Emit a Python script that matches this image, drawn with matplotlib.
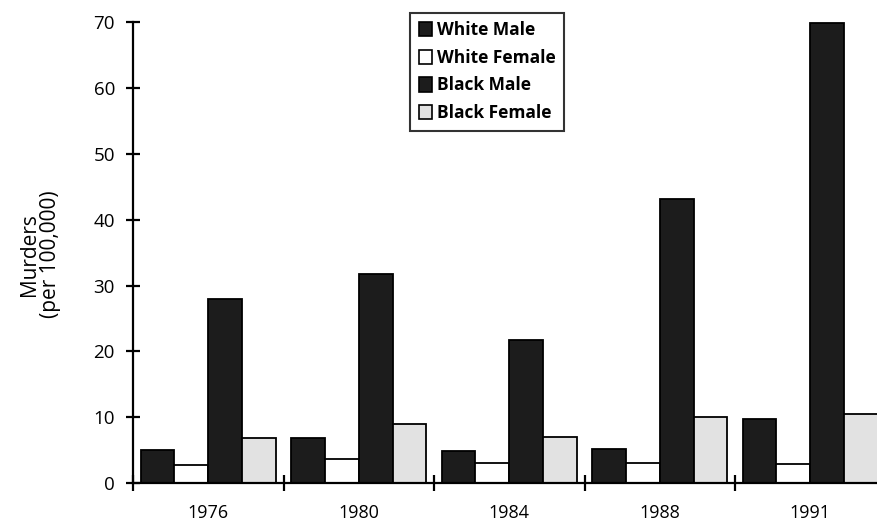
import numpy as np
import matplotlib.pyplot as plt
from matplotlib.patches import Patch

plt.rcParams['font.family'] = ['Open Sans', 'DejaVu Sans']

years = ['1976', '1980', '1984', '1988', '1991']
white_male = [5.1, 6.8, 4.9, 5.2, 9.8]
white_female = [2.7, 3.6, 3.0, 3.1, 2.9]
black_male = [28.0, 31.8, 21.7, 43.1, 69.8]
black_female = [6.8, 9.0, 7.0, 10.1, 10.5]

series = ['White Male', 'White Female', 'Black Male', 'Black Female']
colors = ['#1c1c1c', 'white', '#1c1c1c', '#e2e2e2']

fig = plt.figure(figsize=(8.78, 5.24), dpi=100)
ax = fig.add_axes([0.1515, 0.078, 0.8485, 0.88])

x = np.arange(len(years))
w = 0.225
offsets = [-1.5 * w, -0.5 * w, 0.5 * w, 1.5 * w]
for vals, off, c in zip([white_male, white_female, black_male, black_female], offsets, colors):
    ax.bar(x + off, vals, width=w, color=c, edgecolor='black', linewidth=1.3, zorder=2)

ax.set_xlim(-0.5, 4.45)
ax.set_ylim(0, 70)
ax.set_yticks(range(0, 71, 10))
ax.set_xticks(x)
ax.set_xticklabels(years)
ax.set_xticks(np.arange(-0.5, 4, 1), minor=True)

for s in ['top', 'right']:
    ax.spines[s].set_visible(False)
ax.spines['left'].set_linewidth(1.6)
ax.spines['bottom'].set_linewidth(1.6)

ax.tick_params(axis='y', direction='inout', length=10, width=1.6, labelsize=13.5, pad=8)
ax.tick_params(axis='x', which='major', length=0, labelsize=13, pad=15)
ax.tick_params(axis='x', which='minor', direction='inout', length=12, width=1.6)

fig.text(0.046, 0.515, 'Murders\n(per 100,000)', rotation=90, ha='center', va='center',
         fontsize=15, linespacing=1.0)

handles = [Patch(facecolor=c, edgecolor='black', linewidth=1.2) for c in colors]
leg = ax.legend(handles, series, loc='upper left', bbox_to_anchor=(0.367, 1.028),
                prop={'weight': 'bold', 'size': 12.5}, frameon=True, fancybox=False,
                handlelength=0.75, handleheight=0.9, handletextpad=0.3,
                labelspacing=0.55, borderpad=0.5, borderaxespad=0.2)
leg.get_frame().set_edgecolor('black')
leg.get_frame().set_linewidth(1.5)

plt.savefig('out.png', dpi=100)
